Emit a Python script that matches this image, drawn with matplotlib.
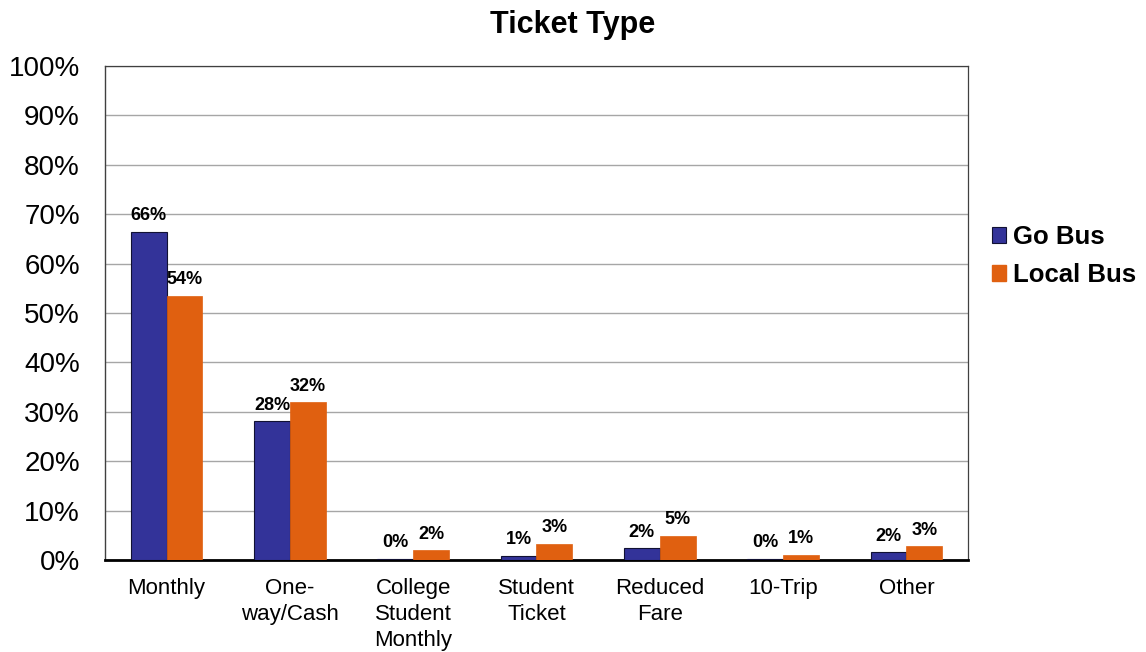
import matplotlib

matplotlib.use("Agg")
import matplotlib.pyplot as plt
import numpy as np
from matplotlib.patches import Patch

plt.rcParams["font.family"] = ["Liberation Sans", "DejaVu Sans"]

categories = ["Monthly", "One-\nway/Cash", "College\nStudent\nMonthly", "Student\nTicket",
              "Reduced\nFare", "10-Trip", "Other"]
go_bus = [66.4, 28.1, 0.3, 0.8, 2.4, 0.3, 1.6]
local_bus = [53.5, 31.9, 2.0, 3.3, 4.9, 1.0, 2.8]
series_names = ["Go Bus", "Local Bus"]

GO_COLOR = "#333399"
LOCAL_COLOR = "#E06010"


def main() -> None:
    fig = plt.figure(figsize=(11.46, 6.52), dpi=100)
    ax = fig.add_axes([0.0916, 0.141, 0.7531, 0.7578])

    x = np.arange(len(categories))
    width = 0.29
    go_bars = ax.bar(x - width / 2, go_bus, width, color=GO_COLOR, edgecolor="#111133",
                     linewidth=0.8, zorder=3)
    local_bars = ax.bar(x + width / 2, local_bus, width, color=LOCAL_COLOR, edgecolor=LOCAL_COLOR,
                        linewidth=0.5, zorder=3)

    for bars, vals in ((go_bars, go_bus), (local_bars, local_bus)):
        for bar, v in zip(bars, vals):
            ax.annotate(f"{v:.0f}%", (bar.get_x() + bar.get_width() / 2, v),
                        xytext=(0, 5.5), textcoords="offset points",
                        ha="center", va="bottom", fontsize=13, fontweight="bold")

    ax.set_xlim(-0.5, len(categories) - 0.5)
    ax.set_ylim(0, 100)
    ax.set_yticks(range(0, 101, 10))
    ax.set_yticklabels([f"{t}%" for t in range(0, 101, 10)], fontsize=20)
    ax.set_xticks(x)
    ax.set_xticklabels(categories, fontsize=16, linespacing=1.32)
    ax.tick_params(axis="both", length=0)
    ax.tick_params(axis="x", pad=13)
    ax.tick_params(axis="y", pad=18)
    ax.grid(True, axis="y", color="#A6A6A6", linewidth=1.0, zorder=0)

    for side in ("top", "right"):
        ax.spines[side].set_color("#404040")
        ax.spines[side].set_linewidth(0.9)
    ax.spines["left"].set_color("#404040")
    ax.spines["left"].set_linewidth(1.0)
    ax.spines["bottom"].set_color("black")
    ax.spines["bottom"].set_linewidth(2.0)

    fig.text(0.5, 0.962, "Ticket Type", ha="center", va="center",
             fontsize=22, fontweight="bold")

    handles = [Patch(facecolor=GO_COLOR, edgecolor="#111133", linewidth=0.8),
               Patch(facecolor=LOCAL_COLOR, edgecolor=LOCAL_COLOR)]
    fig.legend(handles, series_names, loc="center left", bbox_to_anchor=(0.8455, 0.607),
               frameon=False, handlelength=0.55, handleheight=0.55, handletextpad=0.25,
               labelspacing=0.55, prop={"size": 18.5, "weight": "bold"})

    fig.savefig("out.png", dpi=100)
    plt.close(fig)


if __name__ == "__main__":
    main()
